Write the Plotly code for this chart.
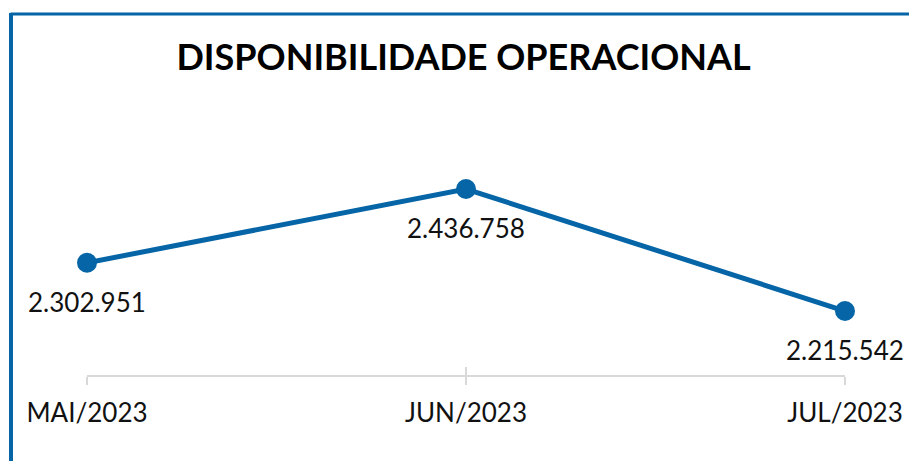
import plotly.graph_objects as go

categories = ["MAI/2023", "JUN/2023", "JUL/2023"]
values = [2302951, 2436758, 2215542]
labels = ["2.302.951", "2.436.758", "2.215.542"]
title_text = "DISPONIBILIDADE OPERACIONAL"

W, H = 909, 461
ML, MR, MT, MB = 87, 64, 120, 86
BLUE = "#0565A6"
GRID = "#d9d9d9"
FONT = "Lato"

fig = go.Figure()
fig.add_trace(go.Scatter(
    x=[0, 1, 2], y=values, mode="lines+markers",
    line=dict(color=BLUE, width=5),
    marker=dict(color=BLUE, size=20),
    cliponaxis=False, hoverinfo="skip", showlegend=False,
))

pw = W - ML - MR
ph = H - MT - MB
def px_x(p):
    return (p - ML) / pw
def px_y(p):
    return (H - MB - p) / ph

annotations = [
    dict(x=i, y=v, xref="x", yref="y", text=t, showarrow=False, yshift=-39,
         font=dict(family=FONT, size=26, color="#111111"))
    for i, (v, t) in enumerate(zip(values, labels))
]

fig.update_layout(
    width=W, height=H,
    margin=dict(l=ML, r=MR, t=MT, b=MB, autoexpand=False),
    paper_bgcolor="white", plot_bgcolor="white",
    title=dict(text="<b>" + title_text + "</b>", x=0.51, xanchor="center",
               y=1 - 57 / H, yanchor="middle",
               font=dict(family=FONT, size=36, color="#000000")),
    xaxis=dict(range=[0, 2], tickvals=[0, 1, 2], ticktext=categories,
               showgrid=False, zeroline=False, showline=True, linecolor=GRID, linewidth=2,
               ticks="outside", ticklen=8, tickcolor=GRID, tickwidth=2,
               ticklabelstandoff=6, automargin=False,
               tickfont=dict(family=FONT, size=26, color="#111111")),
    xaxis2=dict(range=[0, 2], tickvals=[0, 1, 2], overlaying="x", anchor="y", side="bottom",
                showgrid=False, zeroline=False, showline=False, showticklabels=False,
                ticks="inside", ticklen=8, tickcolor=GRID, tickwidth=2, automargin=False),
    yaxis=dict(range=[2099500, 2561900], visible=False, showgrid=False, zeroline=False),
    annotations=annotations,
    shapes=[
        dict(type="line", xref="paper", yref="paper", x0=px_x(10.5), x1=px_x(W + 5),
             y0=px_y(14), y1=px_y(14), line=dict(color=BLUE, width=3)),
        dict(type="line", xref="paper", yref="paper", x0=px_x(11), x1=px_x(11),
             y0=px_y(13), y1=px_y(H + 5), line=dict(color=BLUE, width=4)),
    ],
)
# dummy trace on xaxis2 to activate it
fig.add_trace(go.Scatter(x=[0], y=[values[0]], xaxis="x2", mode="markers",
                         marker=dict(opacity=0), hoverinfo="skip", showlegend=False))

fig.write_html(
    "out.html",
    config={"displayModeBar": False, "responsive": False},
    post_script="document.body.style.margin='0';document.body.style.overflow='hidden';",
)
